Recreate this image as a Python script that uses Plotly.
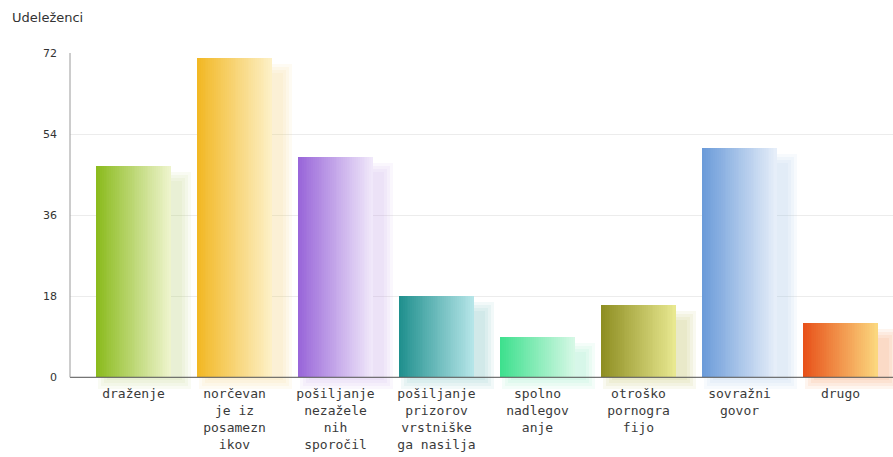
import plotly.graph_objects as go

# Survey responses per type of online violence
categories = ["draženje", "norčevanje iz posameznikov", "pošiljanje nezaželenih sporočil",
              "pošiljanje prizorov vrstniškega nasilja", "spolno nadlegovanje",
              "otroško pornografijo", "sovražni govor", "drugo"]
values = [47, 71, 49, 18, 9, 16, 51, 12]
tick_labels = ["draženje", "norčevan<br>je iz<br>posamezn<br>ikov",
               "pošiljanje<br>nezažele<br>nih<br>sporočil",
               "pošiljanje<br>prizorov<br>vrstniške<br>ga nasilja",
               "spolno<br>nadlegov<br>anje", "otroško<br>pornogra<br>fijo",
               "sovražni<br>govor", "drugo"]
y_ticks = [0, 18, 36, 54, 72]

# gradient end colours of every bar (left edge -> right edge)
left_colors = ["#8bbb1e", "#f2b824", "#9966d9", "#20908e",
               "#3ee08e", "#8e8e22", "#6b9bd9", "#e8521a"]
right_colors = ["#eef4cc", "#fdf0c6", "#f0e8fa", "#b5e5e8",
                "#d5f8e5", "#e8e890", "#e6eef9", "#fbd77e"]


def hex_rgb(h):
    h = h.lstrip("#")
    return tuple(int(h[i:i + 2], 16) for i in (0, 2, 4))


def mix(c1, c2, t, alpha=1.0):
    a, b = hex_rgb(c1), hex_rgb(c2)
    r, g, bl = (round(a[i] + (b[i] - a[i]) * t) for i in range(3))
    return f"rgba({r},{g},{bl},{alpha})"


x = list(range(len(categories)))
BAR_W = 0.74          # bar width in category units
SHIFT = 0.14          # shadow shift to the right
PX_X = 101.0          # pixels per category unit
PX_Y = 336 / 74.6     # pixels per value unit

fig = go.Figure()

# soft drop shadow: stacked translucent rectangles of growing spread
for s in [12, 9, 6, 3]:
    sx, sy = s / PX_X, s / PX_Y
    base = [-sy] * len(values)
    tops = [v - 18 / PX_Y + sy for v in values]
    fig.add_trace(go.Bar(
        x=x, y=[t - b for t, b in zip(tops, base)], base=base,
        width=BAR_W + 2 * sx - 0.06, offset=-BAR_W / 2 + SHIFT - sx,
        marker=dict(color=[mix(l, r, 0.5, 0.09) for l, r in zip(left_colors, right_colors)],
                    line=dict(width=0)),
        hoverinfo="skip", showlegend=False))

# horizontal gradient bars built from thin strips
N = 40
step = BAR_W / N
for k in range(N):
    t = k / (N - 1)
    off = -BAR_W / 2 + k * step
    w = min(step * 1.6, BAR_W / 2 - off)
    fig.add_trace(go.Bar(
        x=x, y=values, width=w, offset=off,
        marker=dict(color=[mix(l, r, t) for l, r in zip(left_colors, right_colors)],
                    line=dict(width=0)),
        hovertext=categories, hoverinfo="text+y", showlegend=False))

fig.update_layout(
    width=893, height=457,
    margin=dict(l=70, r=0, t=53, b=68, autoexpand=False),
    paper_bgcolor="white", plot_bgcolor="white",
    barmode="overlay", bargap=0,
    xaxis=dict(range=[-0.629, 7.52], tickmode="array", tickvals=x, ticktext=tick_labels,
               showgrid=False, zeroline=False, showline=False, ticks="", automargin=False,
               ticklabelstandoff=-5,
               tickfont=dict(family="DejaVu Sans Mono", size=13, color="#3a3a3a")),
    yaxis=dict(range=[-2.6, 72], tickmode="array", tickvals=y_ticks, automargin=False,
               showgrid=True, gridcolor="#ececec", gridwidth=1,
               zeroline=False, showline=False, ticklabelstandoff=12,
               tickfont=dict(family="DejaVu Sans", size=11, color="#333333")),
    shapes=[
        dict(type="line", xref="paper", x0=0, x1=1, yref="y", y0=0, y1=0,
             line=dict(color="#555555", width=1), layer="above"),
        dict(type="line", xref="paper", x0=0, x1=0, yref="y", y0=0, y1=72,
             line=dict(color="#9a9a9a", width=1), layer="above"),
    ],
    annotations=[dict(text="Udeleženci", xref="paper", yref="paper",
                      x=(10 - 70) / 823, y=(389 - 18) / 336,
                      xanchor="left", yanchor="middle", showarrow=False,
                      font=dict(family="DejaVu Sans", size=13, color="#333333"))],
)

fig.write_html("out.html")
